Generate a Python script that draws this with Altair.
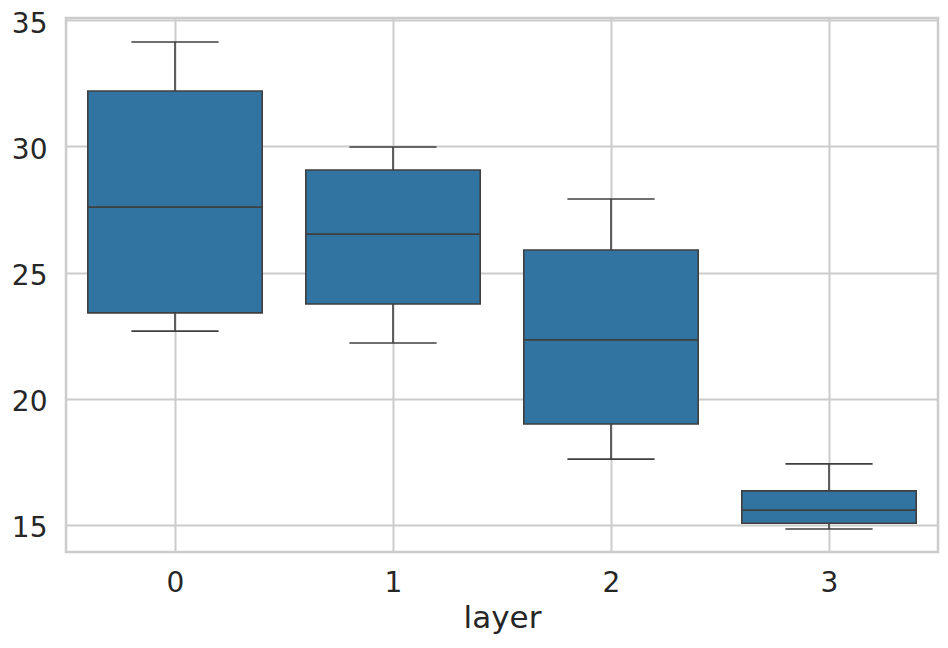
import altair as alt
import pandas as pd

layers = [0, 1, 2, 3]
whisker_low = [22.68, 22.21, 17.61, 14.84]
q1 = [23.40, 23.75, 19.00, 15.07]
median = [27.59, 26.52, 22.33, 15.59]
q3 = [32.19, 29.06, 25.89, 16.35]
whisker_high = [34.13, 29.97, 27.91, 17.42]

df = pd.DataFrame({
    "layer": layers,
    "lo": whisker_low,
    "q1": q1,
    "med": median,
    "q3": q3,
    "hi": whisker_high,
})

FONT = "DejaVu Sans"
LINE = "#3f3f3f"
FILL = "#3274a1"

xscale = alt.Scale(domain=[-0.5, 3.5], nice=False, zero=False)
yscale = alt.Scale(domain=[13.93, 35.08], nice=False, zero=False)

base = alt.Chart(df).transform_calculate(
    bl="datum.layer - 0.4", br="datum.layer + 0.4",
    cl="datum.layer - 0.2", cr="datum.layer + 0.2",
)

xaxis = alt.Axis(values=layers, format="d", title="layer", grid=True,
                 labelPadding=17, titlePadding=6)
yaxis = alt.Axis(values=[15, 20, 25, 30, 35], title=None, grid=True,
                 labelPadding=19, labelOffset=4)

whisk_lo = base.mark_rule(color=LINE, strokeWidth=1.6).encode(
    x=alt.X("layer:Q", scale=xscale, axis=xaxis),
    y=alt.Y("lo:Q", scale=yscale, axis=yaxis),
    y2="q1:Q",
)
whisk_hi = base.mark_rule(color=LINE, strokeWidth=1.6).encode(
    x=alt.X("layer:Q", scale=xscale),
    y=alt.Y("q3:Q", scale=yscale),
    y2="hi:Q",
)
cap_lo = base.mark_rule(color=LINE, strokeWidth=1.6).encode(
    x=alt.X("cl:Q", scale=xscale), x2="cr:Q",
    y=alt.Y("lo:Q", scale=yscale),
)
cap_hi = base.mark_rule(color=LINE, strokeWidth=1.6).encode(
    x=alt.X("cl:Q", scale=xscale), x2="cr:Q",
    y=alt.Y("hi:Q", scale=yscale),
)
box = base.mark_rect(fill=FILL, stroke=LINE, strokeWidth=1.6).encode(
    x=alt.X("bl:Q", scale=xscale), x2="br:Q",
    y=alt.Y("q1:Q", scale=yscale), y2="q3:Q",
)
med = base.mark_rule(color=LINE, strokeWidth=1.6).encode(
    x=alt.X("bl:Q", scale=xscale), x2="br:Q",
    y=alt.Y("med:Q", scale=yscale),
)

chart = alt.layer(whisk_lo, whisk_hi, cap_lo, cap_hi, box, med).properties(
    width=872, height=534,
    autosize=alt.AutoSizeParams(type="none"),
    padding={"left": 58, "top": 10, "right": 2, "bottom": 94},
).configure_view(
    stroke="#cccccc", strokeWidth=2.5
).configure_axis(
    domain=False, ticks=False, gridColor="#cccccc", gridWidth=2,
    labelFont=FONT, labelFontSize=28, labelColor="#262626",
    titleFont=FONT, titleFontSize=31, titleColor="#262626", titleFontWeight="normal",
)

chart.save("out.html", embed_options={"renderer": "svg", "actions": False})
